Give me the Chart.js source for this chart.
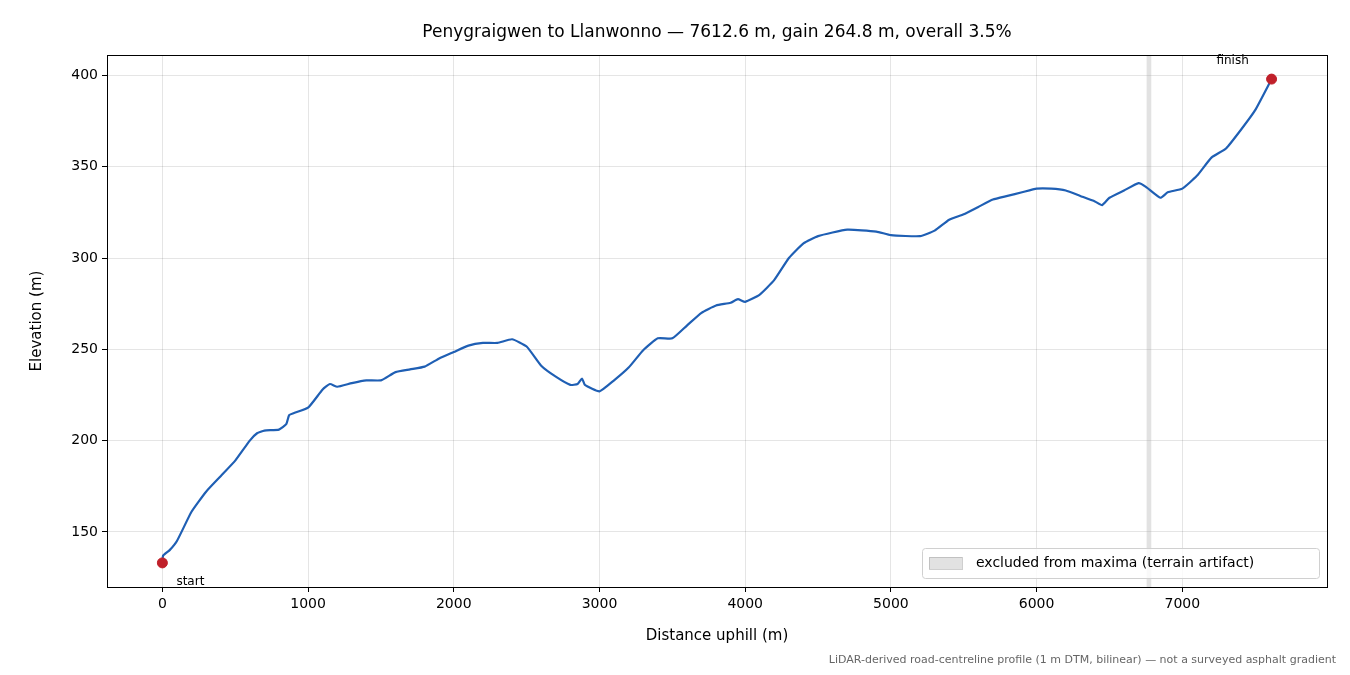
<!DOCTYPE html>
<html>
<head>
<meta charset="utf-8">
<script src="https://cdn.jsdelivr.net/npm/chart.js@4/dist/chart.umd.min.js"></script>
<style>
  body { margin: 0; background: #fff; }
  #wrap { width: 1350px; height: 675px; }
</style>
</head>
<body>
<div id="wrap"><canvas id="perfil"></canvas></div>
<script>
const distancias = [0, 5, 50, 100, 200, 300, 400, 500, 600, 650, 700, 800, 850, 870, 900, 1000, 1100, 1150, 1200, 1300, 1400, 1500, 1600, 1700, 1800, 1900, 2000, 2100, 2200, 2300, 2400, 2500, 2600, 2700, 2800, 2850, 2880, 2900, 3000, 3100, 3200, 3300, 3400, 3500, 3600, 3700, 3800, 3900, 3950, 4000, 4100, 4200, 4300, 4400, 4500, 4700, 4900, 5000, 5200, 5300, 5400, 5500, 5600, 5700, 5800, 5900, 6000, 6100, 6200, 6300, 6400, 6450, 6500, 6600, 6700, 6750, 6850, 6900, 7000, 7100, 7200, 7300, 7400, 7500, 7612.6];
const elevaciones = [133, 137, 140, 145, 161, 172, 180.5, 189, 200, 204, 205.5, 206, 209, 214, 215, 218, 228, 231, 229.5, 231.5, 233, 233, 237.5, 239, 240.5, 245, 248.5, 252, 253.5, 253.5, 255.5, 251.5, 241, 235, 230.5, 231, 234, 230.5, 227, 233, 240, 249.5, 256, 256, 263, 270, 274, 275.5, 277.5, 276, 280, 288, 300, 308, 312, 315.5, 314.5, 312.5, 312, 315, 321, 324, 328, 332, 334, 336, 338, 338, 337, 334, 331, 329, 333, 337, 341, 339, 333, 336, 338, 345, 355, 360, 370, 381, 398];
const ticksX = [0, 1000, 2000, 3000, 4000, 5000, 6000, 7000];
const ticksY = [150, 200, 250, 300, 350, 400];
const banda = [6755, 6787];
const puntosExtremos = [{ x: 0, y: 133, etiqueta: "start" }, { x: 7612.6, y: 398, etiqueta: "finish" }];

const FUENTE = "DejaVu Sans, sans-serif";

const pluginExtras = {
    id: "extras",
    beforeDatasetsDraw(chart) {
        const { ctx, chartArea: a, scales: { x } } = chart;
        ctx.save();
        ctx.fillStyle = "rgba(160,160,160,0.3)";
        const x0 = x.getPixelForValue(banda[0]), x1 = x.getPixelForValue(banda[1]);
        ctx.fillRect(x0, a.top, x1 - x0, a.bottom - a.top);
        ctx.restore();
    },
    afterDraw(chart) {
        const { ctx, chartArea: a, scales: { x, y } } = chart;
        ctx.save();
        // marco completo
        ctx.strokeStyle = "#000";
        ctx.lineWidth = 1;
        ctx.strokeRect(a.left + 0.5, a.top + 0.5, a.right - a.left, a.bottom - a.top);

        ctx.fillStyle = "#000";
        ctx.font = `17px ${FUENTE}`;
        ctx.textAlign = "center";
        ctx.textBaseline = "middle";
        ctx.fillText("Penygraigwen to Llanwonno \u2014 7612.6 m, gain 264.8 m, overall 3.5%", (a.left + a.right) / 2, 33);

        ctx.font = `12px ${FUENTE}`;
        const s = puntosExtremos;
        ctx.fillText(s[0].etiqueta, x.getPixelForValue(s[0].x) + 28, y.getPixelForValue(s[0].y) + 19);
        ctx.fillText(s[1].etiqueta, x.getPixelForValue(s[1].x) - 39, y.getPixelForValue(s[1].y) - 18);

        ctx.fillStyle = "#666";
        ctx.font = `11px ${FUENTE}`;
        ctx.textAlign = "right";
        ctx.fillText("LiDAR-derived road-centreline profile (1 m DTM, bilinear) \u2014 not a surveyed asphalt gradient", 1336, 660);

        // leyenda
        const lx = 922, ly = 548, lw = 397, lh = 30;
        ctx.fillStyle = "rgba(255,255,255,0.8)";
        ctx.strokeStyle = "#d0d0d0";
        ctx.beginPath();
        ctx.roundRect(lx + 0.5, ly + 0.5, lw, lh, 3);
        ctx.fill();
        ctx.stroke();
        ctx.fillStyle = "rgba(160,160,160,0.3)";
        ctx.strokeStyle = "rgba(160,160,160,0.5)";
        ctx.fillRect(929, 557, 33, 12);
        ctx.strokeRect(929.5, 557.5, 33, 12);
        ctx.fillStyle = "#000";
        ctx.font = `14px ${FUENTE}`;
        ctx.textAlign = "left";
        ctx.fillText("excluded from maxima (terrain artifact)", 976, 563);
        ctx.restore();
    },
};

const datosLinea = distancias.map((d, i) => ({ x: d, y: elevaciones[i] }));

new Chart(document.getElementById("perfil").getContext("2d"), {
    type: "scatter",
    data: {
        datasets: [
            {
                type: "line",
                data: datosLinea,
                borderColor: "#1f5fb4",
                borderWidth: 2.2,
                pointRadius: 0,
                tension: 0.15,
                order: 2,
            },
            {
                data: puntosExtremos.map((p) => ({ x: p.x, y: p.y })),
                backgroundColor: "#c0202a",
                borderColor: "#c0202a",
                pointRadius: 5,
                order: 1,
            },
        ],
    },
    options: {
        responsive: true,
        maintainAspectRatio: false,
        animation: false,
        layout: { padding: { left: 24, right: 23, top: 55, bottom: 26 } },
        plugins: { legend: { display: false }, tooltip: { enabled: false } },
        scales: {
            x: {
                type: "linear",
                min: -380,
                max: 7993,
                afterBuildTicks: (s) => { s.ticks = ticksX.map((v) => ({ value: v })); },
                afterFit: (s) => { s.height = 62; },
                grid: { color: "rgba(0,0,0,0.1)", drawTicks: true, tickLength: 5, tickColor: "#000" },
                border: { color: "#000", width: 1 },
                ticks: { color: "#000", font: { family: FUENTE, size: 14 }, padding: 4, maxRotation: 0, callback: (v) => String(v) },
                title: { display: true, text: "Distance uphill (m)", color: "#000", font: { family: FUENTE, size: 15 }, padding: { top: 4 } },
            },
            y: {
                min: 119.8,
                max: 411.2,
                afterBuildTicks: (s) => { s.ticks = ticksY.map((v) => ({ value: v })); },
                afterFit: (s) => { s.width = 83; },
                grid: { color: "rgba(0,0,0,0.1)", tickLength: 5, tickColor: "#000" },
                border: { color: "#000", width: 1 },
                ticks: { color: "#000", font: { family: FUENTE, size: 14 }, padding: 4, callback: (v) => String(v) },
                title: { display: true, text: "Elevation (m)", color: "#000", font: { family: FUENTE, size: 15 }, padding: { bottom: 4 } },
            },
        },
    },
    plugins: [pluginExtras],
});
</script>
</body>
</html>
